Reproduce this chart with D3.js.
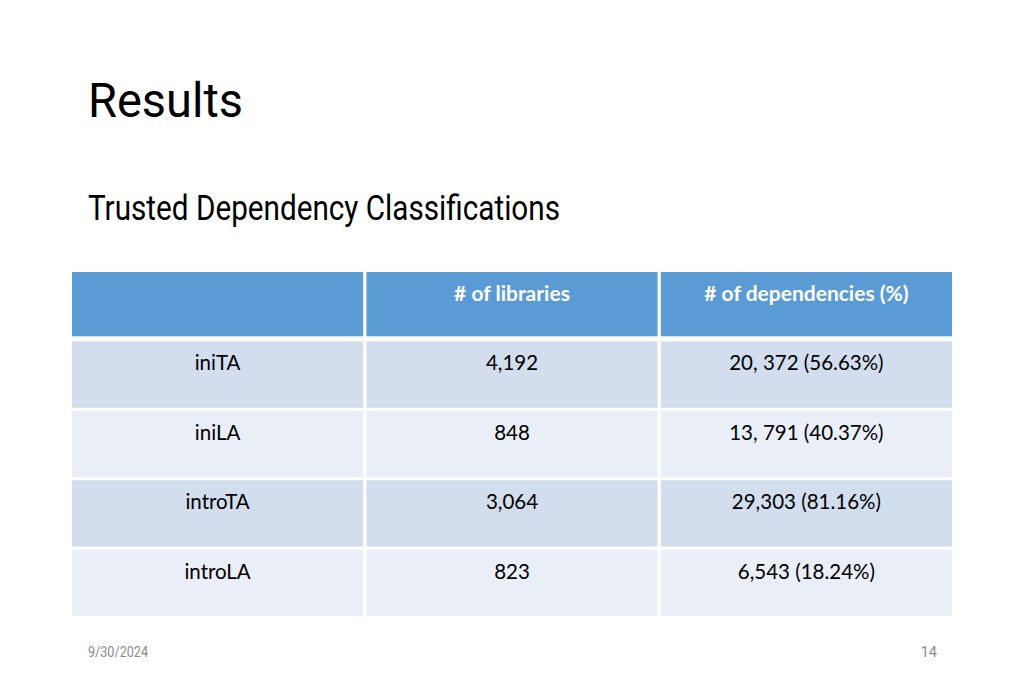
<!DOCTYPE html>
<html><head><meta charset="utf-8">
<script src="https://cdn.jsdelivr.net/npm/d3@7"></script>
<style>html,body{margin:0;padding:0;background:#fff;}</style>
</head><body>
<svg id="chart" width="1024" height="683"></svg>
<script>
const title = "Results";
const subtitle = "Trusted Dependency Classifications";
const columns = ["", "# of libraries", "# of dependencies (%)"];
const categories = ["iniTA", "iniLA", "introTA", "introLA"];
const libraries = ["4,192", "848", "3,064", "823"];
const dependencies = ["20, 372 (56.63%)", "13, 791 (40.37%)", "29,303 (81.16%)", "6,543 (18.24%)"];
const footerDate = "9/30/2024";
const pageNum = "14";

const svg = d3.select("#chart");
svg.append("rect").attr("width",1024).attr("height",683).attr("fill","#fff");

const cond = "Roboto, 'DejaVu Sans', sans-serif";
svg.append("text").attr("x",88).attr("y",117).attr("font-family",cond).attr("font-size",49).attr("font-weight",400)
  .attr("fill","#000").attr("textLength",155).attr("lengthAdjust","spacingAndGlyphs").text(title);
svg.append("text").attr("x",88).attr("y",220).attr("font-family",cond).attr("font-size",35).attr("font-weight",400)
  .attr("fill","#000").attr("textLength",472).attr("lengthAdjust","spacingAndGlyphs").text(subtitle);

const x = d3.scaleBand().domain(d3.range(columns.length)).range([72,952]).paddingInner(0.011);
const rowKeys = ["header"].concat(categories);
const y = d3.scaleBand().domain(rowKeys).range([272,616]).paddingInner(0.045);

const rowFill = ["#d2ddee","#e9eef7"];
const body = "Lato, 'Open Sans', sans-serif";

// header
columns.forEach((c,i)=>{
  svg.append("rect").attr("x",x(i)).attr("y",y("header")).attr("width",x.bandwidth()).attr("height",y.bandwidth()-2)
    .attr("fill","#5b9bd5");
  svg.append("text").attr("x",x(i)+x.bandwidth()/2).attr("y",y("header")+29)
    .attr("text-anchor","middle").attr("font-family",body).attr("font-weight","bold").attr("font-size",21)
    .attr("fill","#fff").text(c);
});

categories.forEach((cat,r)=>{
  const vals = [cat, libraries[r], dependencies[r]];
  vals.forEach((v,i)=>{
    svg.append("rect").attr("x",x(i)).attr("y",y(cat)).attr("width",x.bandwidth()).attr("height",y.bandwidth())
      .attr("fill",rowFill[r%2]);
    svg.append("text").attr("x",x(i)+x.bandwidth()/2).attr("y",y(cat)+29)
      .attr("text-anchor","middle").attr("font-family",body).attr("font-size",20.5)
      .attr("fill","#000").text(v);
  });
});

svg.append("text").attr("x",88).attr("y",657).attr("font-family",cond).attr("font-size",14.5)
  .attr("fill","#8a8a8a").attr("textLength",60).attr("lengthAdjust","spacingAndGlyphs").text(footerDate);
svg.append("text").attr("x",937).attr("y",657).attr("text-anchor","end").attr("font-family",cond).attr("font-size",14.5)
  .attr("fill","#8a8a8a").text(pageNum);
</script>
</body></html>
